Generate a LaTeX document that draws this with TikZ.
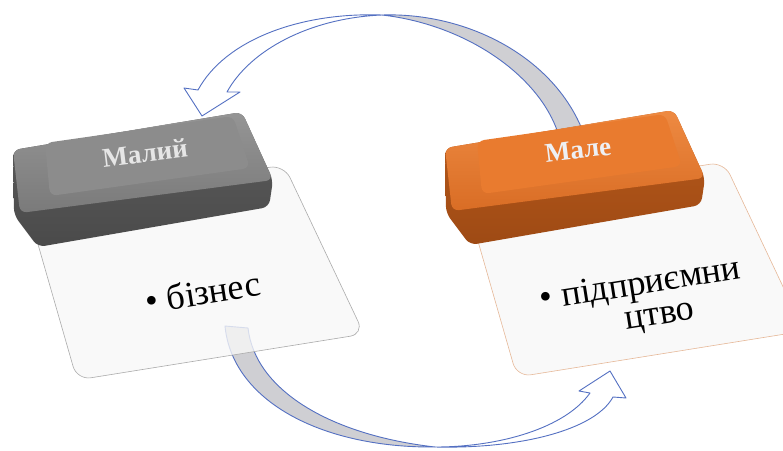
\documentclass[tikz,border=0pt]{standalone}
\usepackage{fontspec}
\setmainfont{Liberation Serif}
\usepackage{xcolor}
\usetikzlibrary{positioning}

\definecolor{ribbonblue}{HTML}{5470C2}
\definecolor{ribbongray}{HTML}{CFCFD3}
\definecolor{cardfill}{HTML}{F7F7F7}
\definecolor{cardline}{HTML}{ABABAB}
\definecolor{cardpeach}{HTML}{E6B898}
\definecolor{greytop}{HTML}{959595}
\definecolor{greyflat}{HTML}{8C8C8C}
\definecolor{greybevel}{HTML}{7A7A7A}
\definecolor{greyfront}{HTML}{5E5E5E}
\definecolor{greyfrontdark}{HTML}{4A4A4A}
\definecolor{orangetop}{HTML}{EE8A42}
\definecolor{orangeflat}{HTML}{E97B2F}
\definecolor{orangebevel}{HTML}{D96D25}
\definecolor{orangefront}{HTML}{BA5B1C}
\definecolor{orangefrontdark}{HTML}{9E4A14}
\definecolor{greylabel}{HTML}{E6E6E6}
\definecolor{orangelabel}{HTML}{EEF0F4}

\tikzset{
  ribbon/.style={draw=ribbonblue, line width=0.9pt, line join=round},
  ribbonback/.style={ribbon, fill=ribbongray},
  ribbonfront/.style={ribbon, fill=white},
  card/.style={fill=cardfill, fill opacity=0.8, line width=0.6pt, rounded corners=14pt},
  keyface/.style={rounded corners=7pt},
  cardtext/.style={font=\rmfamily\fontsize{36}{33}\selectfont, align=center, inner sep=0pt, rotate=9},
  keytext/.style={font=\rmfamily\fontsize{27}{27}\selectfont\bfseries, inner sep=0pt, rotate=7},
}

\begin{document}
\begin{tikzpicture}[x=1pt, y=-1pt]
    \useasboundingbox (0,0) rectangle (783,450);
    \clip (0,0) rectangle (783,450);

    % ribbon points
    \coordinate (bstartl) at (225,326);
    \coordinate (bstartr) at (248,328);
    \coordinate (btwist) at (435,447);
    \coordinate (bneckl) at (590,393);
    \coordinate (bbarbl) at (579,391);
    \coordinate (btip) at (610,371);
    \coordinate (bbarbr) at (626,398);
    \coordinate (bneckr) at (613,397);
    \coordinate (tneckl) at (198,90);
    \coordinate (tbarbl) at (184,88);
    \coordinate (ttip) at (202,116);
    \coordinate (tbarbr) at (240,92);
    \coordinate (tneckr) at (227,92);
    \coordinate (ttwist) at (382,15);
    \coordinate (tendl) at (560,140);
    \coordinate (tendr) at (586,140);

    % draw ribbons
    \draw[ribbonback] (bstartl) .. controls (232,400) and (320,448) .. (btwist)
        .. controls (330,435) and (255,390) .. (bstartr) -- cycle;
    \draw[ribbonfront] (btwist) .. controls (500,447) and (565,428) .. (bneckl)
        -- (bbarbl) -- (btip) -- (bbarbr) -- (bneckr)
        .. controls (595,430) and (520,449) .. (btwist) -- cycle;
    \draw[ribbonback] (ttwist) .. controls (470,12) and (560,60) .. (tendr)
        -- (tendl) .. controls (545,80) and (470,25) .. (ttwist) -- cycle;
    \draw[ribbonfront] (tneckl) .. controls (225,40) and (300,12) .. (ttwist)
        .. controls (310,18) and (250,50) .. (tneckr)
        -- (tbarbr) -- (ttip) -- (tbarbl) -- cycle;

    % cards
    \coordinate (lcardtl) at (27,206);
    \coordinate (lcardtr) at (284,165);
    \coordinate (lcardbr) at (364,334);
    \coordinate (lcardbl) at (77,380);
    \coordinate (rcardtl) at (467,203);
    \coordinate (rcardtr) at (724,162);
    \coordinate (rcardbr) at (804,331);
    \coordinate (rcardbl) at (517,377);
    \draw[card, draw=cardline] (lcardtl) -- (lcardtr) -- (lcardbr) -- (lcardbl) -- cycle;
    \draw[card, draw=cardpeach] (rcardtl) -- (rcardtr) -- (rcardbr) -- (rcardbl) -- cycle;

    % grey key
    \shade[keyface, top color=greyfront, bottom color=greyfrontdark]
        (13,150) -- (242,112) -- (273,180) -- (269,207) -- (38,247) -- (14,215) -- cycle;
    \shade[keyface, top color=greytop, bottom color=greybevel]
        (13,150) -- (242,112) -- (273,180) -- (20,213) -- cycle;
    \fill[keyface, greyflat] (45,143) -- (233,116) -- (250,168) -- (50,196) -- cycle;

    % orange key
    \begin{scope}[shift={(432,-2)}]
        \shade[keyface, top color=orangefront, bottom color=orangefrontdark]
            (13,150) -- (242,112) -- (273,180) -- (269,207) -- (38,247) -- (14,215) -- cycle;
        \shade[keyface, top color=orangetop, bottom color=orangebevel]
            (13,150) -- (242,112) -- (273,180) -- (20,213) -- cycle;
        \fill[keyface, orangeflat] (45,143) -- (233,116) -- (250,168) -- (50,196) -- cycle;
    \end{scope}

    % labels
    \node[keytext, text=greylabel] (lkeylabel) at (145,153) {Малий};
    \node[keytext, text=orangelabel] (rkeylabel) at (578,150) {Мале};
    \node[cardtext] (lcardtext) at (203,292) {\textbullet\ бізнес};
    \node[cardtext] (rcardtext) at (643,302) {\textbullet\ підприємни\\\hspace*{0.8em}цтво};
\end{tikzpicture}
\end{document}
